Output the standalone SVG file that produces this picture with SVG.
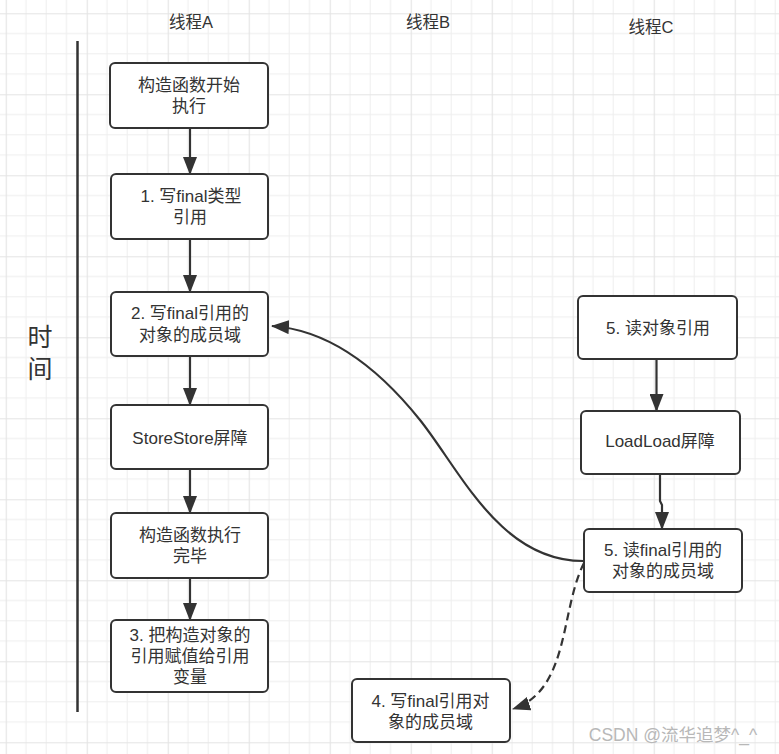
<svg xmlns="http://www.w3.org/2000/svg" width="779" height="754" viewBox="0 0 779 754">
<defs>
<pattern id="grid" patternUnits="userSpaceOnUse" x="5.7" y="13.3" width="81" height="81">
<rect width="81" height="81" fill="#ffffff"/>
<path d="M20.25,0V81M40.5,0V81M60.75,0V81M0,20.25H81M0,40.5H81M0,60.75H81" stroke="#eeeeee" stroke-width="1" fill="none"/>
<path d="M0.5,0V81M0,0.5H81" stroke="#e4e4e4" stroke-width="1.2" fill="none"/>
</pattern>
<marker id="arr" markerUnits="userSpaceOnUse" markerWidth="18" markerHeight="14" refX="17" refY="7" orient="auto" viewBox="0 0 18 14">
<path d="M0,0 L18,7 L0,14 z" fill="#333333"/>
</marker>
<style>
.box{fill:#ffffff;stroke:#333333;stroke-width:2}
.t{font-family:"Liberation Sans","Noto Sans CJK SC",sans-serif;font-size:17px;fill:#333333;text-anchor:middle;dominant-baseline:central}
.title{font-family:"Liberation Sans","Noto Sans CJK SC",sans-serif;font-size:16.5px;fill:#333333;text-anchor:middle;dominant-baseline:central}
.ln{fill:none;stroke:#333333;stroke-width:2.2}
</style>
</defs>
<rect width="779" height="754" fill="url(#grid)"/>
<line x1="77.5" y1="41" x2="77.5" y2="712" stroke="#333333" stroke-width="2.5"/>
<text class="title" x="40" y="337" style="font-size:25px">时</text>
<text class="title" x="40" y="369" style="font-size:25px">间</text>
<text class="title" x="191" y="22">线程A</text>
<text class="title" x="428" y="22">线程B</text>
<text class="title" x="651" y="27">线程C</text>

<g id="connectors">
<line class="ln" x1="190" y1="128" x2="190" y2="174" marker-end="url(#arr)"/>
<line class="ln" x1="190" y1="239" x2="190" y2="292" marker-end="url(#arr)"/>
<line class="ln" x1="190" y1="356" x2="190" y2="405" marker-end="url(#arr)"/>
<line class="ln" x1="190" y1="469" x2="190" y2="513" marker-end="url(#arr)"/>
<line class="ln" x1="190" y1="578" x2="190" y2="620" marker-end="url(#arr)"/>
<line class="ln" x1="656.5" y1="359" x2="656.5" y2="411" marker-end="url(#arr)"/>
<path class="ln" d="M660,474 L660,501 L662,505 L662,529" marker-end="url(#arr)"/>
<path class="ln" d="M583,561 C500,561 460,470 420,420 S330,330 272,326" marker-end="url(#arr)"/>
<path class="ln" d="M584,563 C560,610 570,690 513,709" stroke-dasharray="8,5" marker-end="url(#arr)"/>
</g>

<g id="a1"><rect class="box" x="110" y="63" width="158" height="65" rx="5"/>
<text class="t" x="189" y="85">构造函数开始</text><text class="t" x="189" y="106.5">执行</text></g>
<g id="a2"><rect class="box" x="111" y="174" width="157" height="65" rx="5"/>
<text class="t" x="191" y="196">1. 写final类型</text><text class="t" x="190" y="217">引用</text></g>
<g id="a3"><rect class="box" x="111" y="292" width="157" height="64" rx="5"/>
<text class="t" x="190" y="313">2. 写final引用的</text><text class="t" x="190" y="335">对象的成员域</text></g>
<g id="a4"><rect class="box" x="111" y="405" width="157" height="64" rx="5"/>
<text class="t" x="190" y="438">StoreStore屏障</text></g>
<g id="a5"><rect class="box" x="111" y="513" width="157" height="65" rx="5"/>
<text class="t" x="190" y="535">构造函数执行</text><text class="t" x="190" y="556.5">完毕</text></g>
<g id="a6"><rect class="box" x="111" y="620" width="157" height="72" rx="5"/>
<text class="t" x="190" y="635">3. 把构造对象的</text><text class="t" x="190" y="656">引用赋值给引用</text><text class="t" x="190" y="677">变量</text></g>
<g id="b1"><rect class="box" x="352" y="679" width="158" height="63" rx="5"/>
<text class="t" x="430.5" y="701">4. 写final引用对</text><text class="t" x="430.5" y="722">象的成员域</text></g>
<g id="c1"><rect class="box" x="578" y="296" width="159" height="63" rx="5"/>
<text class="t" x="658" y="328">5. 读对象引用</text></g>
<g id="c2"><rect class="box" x="581" y="411" width="159" height="63" rx="5"/>
<text class="t" x="660" y="441.5">LoadLoad屏障</text></g>
<g id="c3"><rect class="box" x="584" y="529" width="158" height="63" rx="5"/>
<text class="t" x="663" y="550">5. 读final引用的</text><text class="t" x="663" y="571">对象的成员域</text></g>

<text x="673" y="735" style="font-family:'Liberation Sans','Noto Sans CJK SC',sans-serif;font-size:17.5px;fill:#b8b8b8;text-anchor:middle;dominant-baseline:central">CSDN @流华追梦^_^</text>
</svg>
